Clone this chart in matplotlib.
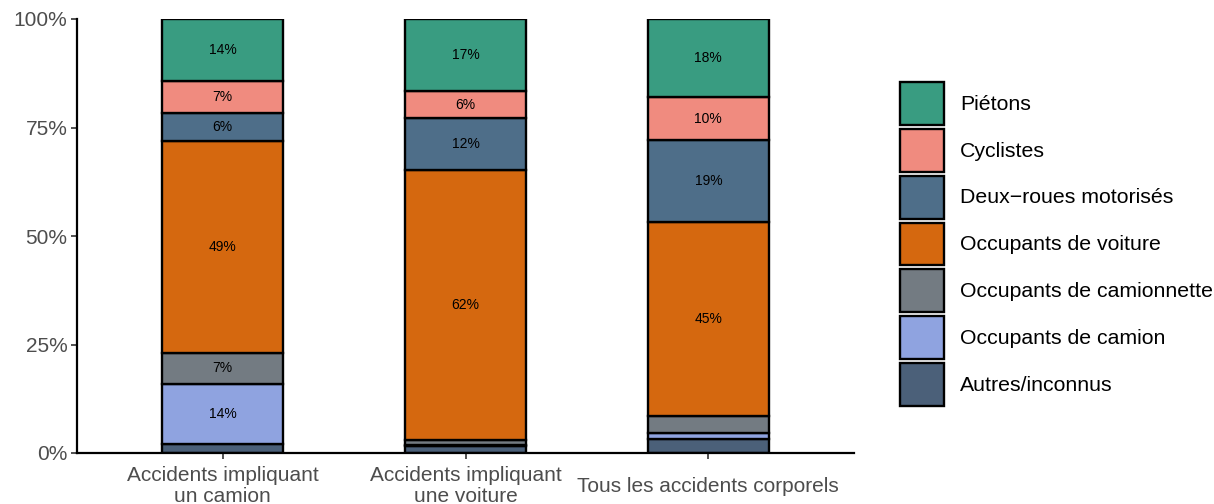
import matplotlib
matplotlib.use("Agg")
import matplotlib.pyplot as plt
from matplotlib.patches import Patch

plt.rcParams['font.family'] = ['Liberation Sans', 'DejaVu Sans']

categories = ["Accidents impliquant\nun camion", "Accidents impliquant\nune voiture",
              "Tous les accidents corporels"]
series_names = ["Autres/inconnus", "Occupants de camion", "Occupants de camionnette",
                "Occupants de voiture", "Deux\u2212roues motorisés", "Cyclistes", "Piétons"]
autres = [2.0, 1.6, 3.2]
camion = [14.0, 0.3, 1.4]
camionnette = [7.0, 1.2, 4.0]
voiture = [49.0, 62.0, 44.6]
deux_roues = [6.4, 12.0, 18.9]
cyclistes = [7.4, 6.2, 9.9]
pietons = [14.2, 16.7, 18.0]
colors = ["#4B6079", "#8FA3E0", "#737B82", "#D5680F", "#4E6E89", "#F08B7F", "#399C81"]

values = [autres, camion, camionnette, voiture, deux_roues, cyclistes, pietons]

fig = plt.figure(figsize=(12.14, 5.04), dpi=100)
ax = fig.add_axes([77/1214, 51/504, 777/1214, 434/504])

x = [1, 2, 3]
bottoms = [0.0, 0.0, 0.0]
for name, vals, col in zip(series_names, values, colors):
    ax.bar(x, vals, width=0.5, bottom=bottoms, color=col, edgecolor="black",
           linewidth=1.7, label=name, zorder=2)
    for xi, v, b in zip(x, vals, bottoms):
        if v >= 5:
            ax.text(xi, b + v / 2, f"{round(v):d}%", ha="center", va="center",
                    fontsize=10, color="black", zorder=3)
    bottoms = [b + v for b, v in zip(bottoms, vals)]

ax.set_xlim(0.4, 3.6)
ax.set_ylim(0, 100)
ax.set_yticks([0, 25, 50, 75, 100])
ax.set_yticklabels(["0%", "25%", "50%", "75%", "100%"])
ax.set_xticks(x)
ax.set_xticklabels(categories)
for lab in ax.get_xticklabels():
    lab.set_verticalalignment("center")
    lab.set_linespacing(1.15)
ax.tick_params(axis="x", pad=20, length=4, width=1.2, color="#333333",
               labelsize=15, labelcolor="#4D4D4D")
ax.tick_params(axis="y", pad=3, length=4, width=1.2, color="#333333",
               labelsize=15, labelcolor="#4D4D4D")
for s in ["top", "right"]:
    ax.spines[s].set_visible(False)
for s in ["left", "bottom"]:
    ax.spines[s].set_linewidth(1.6)
    ax.spines[s].set_color("black")

handles = [Patch(facecolor=c, edgecolor="black", linewidth=1.7, label=n)
           for n, c in zip(series_names, colors)][::-1]
leg = fig.legend(handles=handles, loc="center left", bbox_to_anchor=(900/1214, 0.516),
                 frameon=False, fontsize=15.3, handlelength=2.05, handleheight=2.72,
                 labelspacing=0.19, handletextpad=0.78, borderaxespad=0, borderpad=0)

fig.savefig("out.png", dpi=100)
